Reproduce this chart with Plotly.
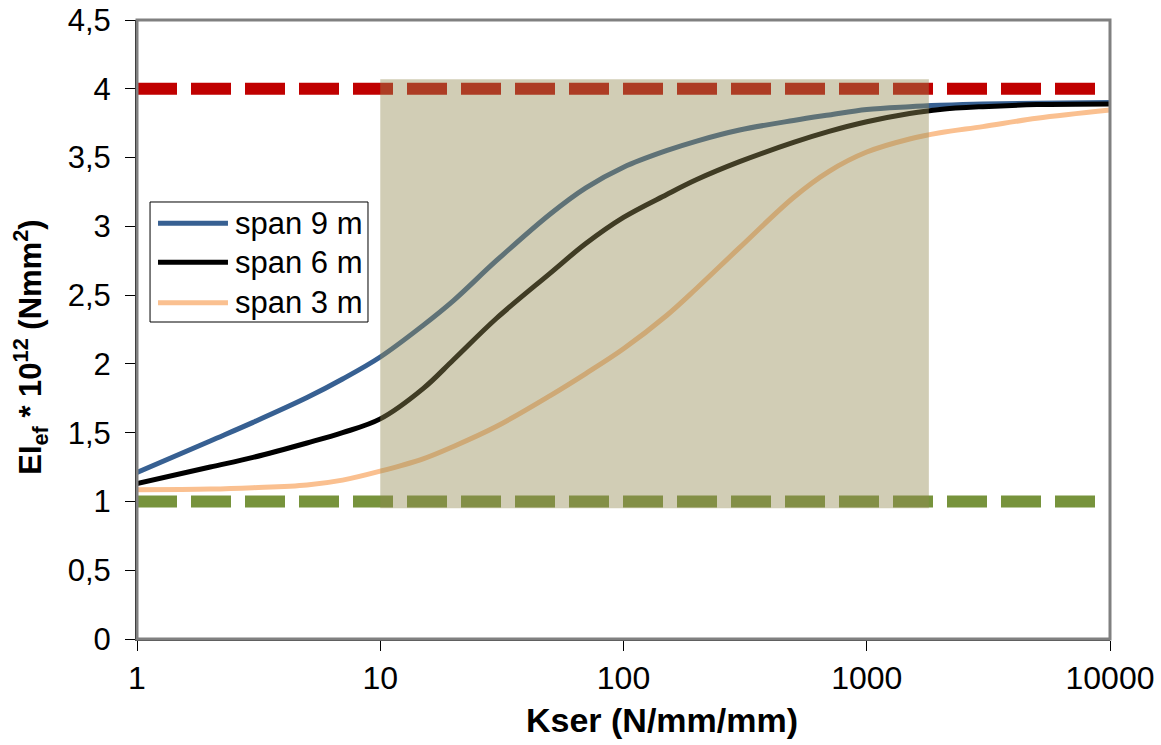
import plotly.graph_objects as go

# ---- data ----
kser = [1, 2, 3, 5, 7, 10, 15, 20, 30, 50, 70, 100, 150, 200, 300, 500, 700,
        1000, 1500, 2000, 3000, 5000, 10000]
span9 = [1.21, 1.44, 1.575, 1.755, 1.89, 2.05, 2.28, 2.46, 2.75, 3.09, 3.28, 3.43,
         3.55, 3.62, 3.70, 3.77, 3.81, 3.85, 3.87, 3.88, 3.89, 3.895, 3.90]
span6 = [1.13, 1.25, 1.32, 1.425, 1.50, 1.60, 1.82, 2.03, 2.33, 2.66, 2.875, 3.065,
         3.23, 3.34, 3.47, 3.61, 3.69, 3.76, 3.82, 3.85, 3.87, 3.885, 3.89]
span3 = [1.085, 1.09, 1.10, 1.12, 1.155, 1.22, 1.31, 1.40, 1.545, 1.77, 1.93, 2.11,
         2.35, 2.55, 2.845, 3.21, 3.40, 3.54, 3.635, 3.68, 3.725, 3.785, 3.845]
series_names = ["span 9 m", "span 6 m", "span 3 m"]
series_colors = ["#376092", "#000000", "#FAC090"]
upper_limit = 4.0
lower_limit = 1.0
limit_x = [1, 10000]
band_x = [10, 1800]
band_y = [0.95, 4.07]

x_ticks = [1, 10, 100, 1000, 10000]
x_ticktext = ["1", "10", "100", "1000", "10000"]
y_ticks = [0, 0.5, 1, 1.5, 2, 2.5, 3, 3.5, 4, 4.5]
y_ticktext = ["0", "0,5", "1", "1,5", "2", "2,5", "3", "3,5", "4", "4,5"]

FONT = "Liberation Sans, Arial, sans-serif"

fig = go.Figure()

fig.add_trace(go.Scatter(x=limit_x, y=[upper_limit] * 2, mode="lines",
                         line=dict(color="#C00000", width=12, dash="40px,14px"),
                         showlegend=False, hoverinfo="skip"))
fig.add_trace(go.Scatter(x=limit_x, y=[lower_limit] * 2, mode="lines",
                         line=dict(color="#77933C", width=12, dash="40px,14px"),
                         showlegend=False, hoverinfo="skip"))

for name, ys, col in zip(series_names, [span9, span6, span3], series_colors):
    fig.add_trace(go.Scatter(x=kser, y=ys, mode="lines", name=name, showlegend=False,
                             line=dict(color=col, width=5, shape="spline", smoothing=1.0)))

fig.add_trace(go.Scatter(x=[band_x[0], band_x[1], band_x[1], band_x[0], band_x[0]],
                         y=[band_y[0], band_y[0], band_y[1], band_y[1], band_y[0]],
                         mode="lines", fill="toself",
                         fillcolor="rgba(148,138,84,0.43)",
                         line=dict(width=0, color="rgba(0,0,0,0)"),
                         showlegend=False, hoverinfo="skip"))

# ---- manual legend (layout decoration) ----
shapes = [dict(type="rect", xref="paper", yref="paper", x0=0, x1=1, y0=0, y1=1,
               line=dict(color="#808080", width=3), layer="above"),
          dict(type="rect", xref="paper", yref="paper", x0=0.0134, x1=0.2374,
               y0=0.5121, y1=0.7060, fillcolor="white",
               line=dict(color="black", width=1), layer="above")]
annotations = []
leg_y = [0.6716, 0.6086, 0.5433]
for name, col, ly in zip(series_names, series_colors, leg_y):
    shapes.append(dict(type="line", xref="paper", yref="paper", x0=0.0216, x1=0.0935,
                       y0=ly, y1=ly, line=dict(color=col, width=5), layer="above"))
    annotations.append(dict(xref="paper", yref="paper", x=0.0987, y=ly, text=name,
                            showarrow=False, xanchor="left", yanchor="middle",
                            font=dict(size=31)))

annotations.append(dict(xref="paper", yref="paper", x=0.54, y=-0.131,
                        text="<b>Kser (N/mm/mm)</b>", showarrow=False,
                        xanchor="center", yanchor="middle", font=dict(size=34)))
annotations.append(dict(xref="paper", yref="paper", x=-0.109, y=0.472,
                        text="<b>EI<sub>ef</sub> * 10<sup>12</sup> (Nmm<sup>2</sup>)</b>",
                        showarrow=False, textangle=-90,
                        xanchor="center", yanchor="middle", font=dict(size=31)))

fig.update_layout(
    width=1161, height=745,
    margin=dict(l=137, r=51, t=20, b=106),
    paper_bgcolor="white", plot_bgcolor="white",
    font=dict(family=FONT, size=30, color="black"),
    showlegend=False,
    shapes=shapes,
    annotations=annotations,
)

fig.update_xaxes(type="log", range=[0, 4], tickvals=x_ticks, ticktext=x_ticktext,
                 automargin=False,
                 showgrid=False, zeroline=False, showline=True, linecolor="#404040",
                 linewidth=2, ticks="outside", ticklen=10, tickcolor="black",
                 tickfont=dict(size=32))
fig.update_yaxes(range=[0, 4.5], tickvals=y_ticks, ticktext=y_ticktext,
                 automargin=False, ticklabelstandoff=8,
                 showgrid=False, zeroline=False, showline=True, linecolor="black",
                 linewidth=2, ticks="outside", ticklen=10, tickcolor="black",
                 tickfont=dict(size=31))

fig.write_html("out.html")
